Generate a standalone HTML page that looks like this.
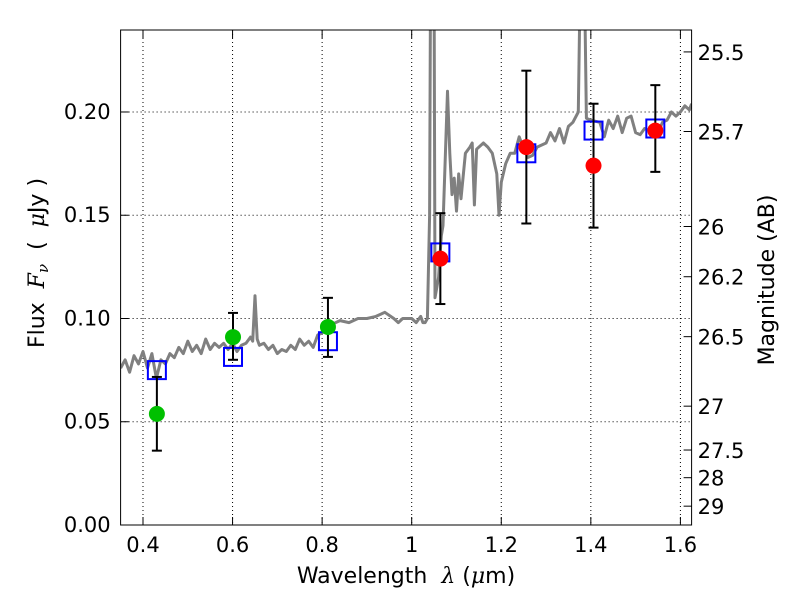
<!DOCTYPE html>
<html><head><meta charset="utf-8"><style>
html,body{margin:0;padding:0;background:#fff;width:800px;height:600px;overflow:hidden}
svg{font-family:"DejaVu Sans","Liberation Sans",sans-serif}
</style></head><body>
<svg id="chart" width="800" height="600" xmlns="http://www.w3.org/2000/svg">
<defs><clipPath id="clip"><rect x="120.6" y="30" width="571" height="495"/></clipPath></defs>
<rect x="0" y="0" width="800" height="600" fill="#fff"/>
<g id="grid"></g>
<g id="spec" clip-path="url(#clip)"></g>
<g id="marks"></g>
<rect x="120.6" y="30" width="571" height="495" fill="none" stroke="#000" stroke-width="1"/>
<g id="axes"></g>
<text x="406" y="583" font-size="22" text-anchor="middle" xml:space="preserve">Wavelength  <tspan font-style="italic" font-family="DejaVu Serif,serif">λ</tspan> (<tspan font-style="italic" font-family="DejaVu Serif,serif">μ</tspan>m)</text>
<text transform="translate(44,263) rotate(-90)" font-size="22" text-anchor="middle" xml:space="preserve">Flux  <tspan font-style="italic" font-family="DejaVu Serif,serif">F<tspan font-size="15" dy="4">ν</tspan></tspan><tspan dy="-4">  (  </tspan><tspan font-style="italic" font-family="DejaVu Serif,serif">μ</tspan>Jy )</text>
<text transform="translate(774,280) rotate(-90)" font-size="22" text-anchor="middle">Magnitude (AB)</text>
</svg>
<script>
const specX=[0.35,0.36,0.37,0.38,0.39,0.40,0.41,0.42,0.43,0.44,0.45,0.46,0.47,0.48,0.49,0.50,0.51,0.52,0.53,0.54,0.55,0.56,0.57,0.58,0.59,0.60,0.61,0.62,0.63,0.64,0.645,0.65,0.655,0.66,0.67,0.68,0.69,0.70,0.71,0.72,0.73,0.74,0.75,0.76,0.77,0.78,0.79,0.80,0.81,0.82,0.84,0.86,0.88,0.90,0.92,0.94,0.96,0.97,0.98,1.00,1.01,1.02,1.025,1.03,1.035,1.04,1.042,1.05,1.052,1.06,1.066,1.07,1.08,1.085,1.09,1.095,1.10,1.105,1.11,1.12,1.13,1.135,1.14,1.145,1.16,1.17,1.18,1.19,1.195,1.20,1.21,1.22,1.23,1.24,1.25,1.26,1.27,1.28,1.30,1.31,1.32,1.33,1.34,1.35,1.36,1.372,1.376,1.386,1.39,1.40,1.42,1.43,1.44,1.45,1.46,1.47,1.48,1.49,1.50,1.51,1.52,1.53,1.55,1.56,1.57,1.58,1.59,1.60,1.61,1.62,1.625];
const specY=[0.076,0.080,0.074,0.082,0.078,0.084,0.076,0.083,0.071,0.080,0.078,0.083,0.081,0.086,0.083,0.089,0.084,0.087,0.083,0.090,0.085,0.088,0.086,0.088,0.085,0.088,0.084,0.087,0.088,0.091,0.089,0.111,0.090,0.087,0.088,0.085,0.087,0.083,0.085,0.084,0.087,0.085,0.090,0.087,0.089,0.086,0.092,0.093,0.095,0.097,0.099,0.098,0.100,0.100,0.101,0.103,0.100,0.098,0.100,0.100,0.098,0.101,0.098,0.098,0.100,0.150,0.260,0.260,0.110,0.120,0.140,0.145,0.210,0.180,0.160,0.168,0.152,0.170,0.158,0.180,0.183,0.185,0.155,0.182,0.185,0.183,0.180,0.170,0.150,0.166,0.175,0.180,0.180,0.188,0.182,0.178,0.179,0.183,0.185,0.190,0.186,0.192,0.185,0.193,0.195,0.200,0.260,0.260,0.197,0.196,0.195,0.188,0.196,0.192,0.198,0.190,0.197,0.198,0.190,0.189,0.192,0.191,0.190,0.195,0.196,0.200,0.198,0.200,0.203,0.201,0.204];
const greenX=[0.431,0.601,0.813];
const greenY=[0.0538,0.091,0.0959];
const greenLo=[0.036,0.080,0.0814];
const greenHi=[0.0717,0.1027,0.110];
const redX=[1.064,1.256,1.406,1.544];
const redY=[0.129,0.183,0.174,0.191];
const redLo=[0.107,0.146,0.144,0.171];
const redHi=[0.151,0.220,0.204,0.213];
const modelX=[0.431,0.601,0.813,1.064,1.256,1.406,1.544];
const modelY=[0.075,0.0814,0.089,0.132,0.180,0.191,0.192];
const xTicks=[0.4,0.6,0.8,1.0,1.2,1.4,1.6];
const xTickLabels=["0.4","0.6","0.8","1","1.2","1.4","1.6"];
const yTicks=[0,0.05,0.10,0.15,0.20];
const yTickLabels=["0.00","0.05","0.10","0.15","0.20"];
const magTicks=[25.5,25.7,26,26.2,26.5,27,27.5,28,29];

const X0=120.6,X1=691.6,Y0=525,Y1=30,xmin=0.35,xmax=1.625,ymin=0,ymax=0.2397;
const sx=v=>X0+(v-xmin)/(xmax-xmin)*(X1-X0);
const sy=v=>Y0-(v-ymin)/(ymax-ymin)*(Y0-Y1);
const magToFlux=m=>Math.pow(10,(23.9-m)/2.5);
const NS="http://www.w3.org/2000/svg";
function mk(tag,attrs,parent){const e=document.createElementNS(NS,tag);for(const k in attrs)e.setAttribute(k,attrs[k]);parent.appendChild(e);return e;}
const grid=document.getElementById('grid'),axes=document.getElementById('axes'),spec=document.getElementById('spec'),marks=document.getElementById('marks');

xTicks.forEach((t,i)=>{const x=sx(t);
 const g=mk('line',{x1:x,x2:x,y1:Y1,y2:Y0,stroke:'#000','stroke-width':1,'stroke-dasharray':'1,3'},grid);
 
 mk('line',{x1:x,x2:x,y1:Y0,y2:Y0-8,stroke:'#000'},axes);
 mk('line',{x1:x,x2:x,y1:Y1,y2:Y1+8,stroke:'#000'},axes);
 const tx=mk('text',{x:x,y:Y0+27,'font-size':21,'text-anchor':'middle'},axes);tx.textContent=xTickLabels[i];
 
});
yTicks.forEach((t,i)=>{const y=sy(t);
 const g=mk('line',{x1:X0,x2:X1,y1:y,y2:y,stroke:'#000','stroke-width':1,'stroke-dasharray':'1,3'},grid);
 
 mk('line',{x1:X0,x2:X0+8,y1:y,y2:y,stroke:'#000'},axes);
 const tx=mk('text',{x:X0-10,y:y+7,'font-size':21,'text-anchor':'end'},axes);tx.textContent=yTickLabels[i];
 
});
magTicks.forEach(m=>{const y=sy(magToFlux(m));
 mk('line',{x1:X1,x2:X1-8,y1:y,y2:y,stroke:'#000'},axes);
 const tx=mk('text',{x:X1+6,y:y+8,'font-size':21},axes);tx.textContent=String(m);
 
});

let d='';specX.forEach((v,i)=>{d+=(i?'L':'M')+sx(v).toFixed(1)+','+sy(specY[i]).toFixed(1);});
const sp=mk('path',{d:d,fill:'none',stroke:'#808080','stroke-width':3,'stroke-linejoin':'round'},spec);


function errbar(x,lo,hi){const g=mk('g',{},marks);
 
 const px=sx(x);
 mk('line',{x1:px,x2:px,y1:sy(lo),y2:sy(hi),stroke:'#000','stroke-width':2},g);
 mk('line',{x1:px-5,x2:px+5,y1:sy(lo),y2:sy(lo),stroke:'#000','stroke-width':2},g);
 mk('line',{x1:px-5,x2:px+5,y1:sy(hi),y2:sy(hi),stroke:'#000','stroke-width':2},g);}
modelX.forEach((v,i)=>{const r=mk('rect',{x:sx(v)-9,y:sy(modelY[i])-9,width:18,height:18,fill:'none',stroke:'#0000ff','stroke-width':2},marks);
 });
greenX.forEach((v,i)=>{errbar(v,greenLo[i],greenHi[i]);
 const c=mk('circle',{cx:sx(v),cy:sy(greenY[i]),r:8,fill:'#00c000'},marks);
 });
redX.forEach((v,i)=>{errbar(v,redLo[i],redHi[i]);
 const c=mk('circle',{cx:sx(v),cy:sy(redY[i]),r:8,fill:'#ff0000'},marks);
 });
</script>
</body></html>
